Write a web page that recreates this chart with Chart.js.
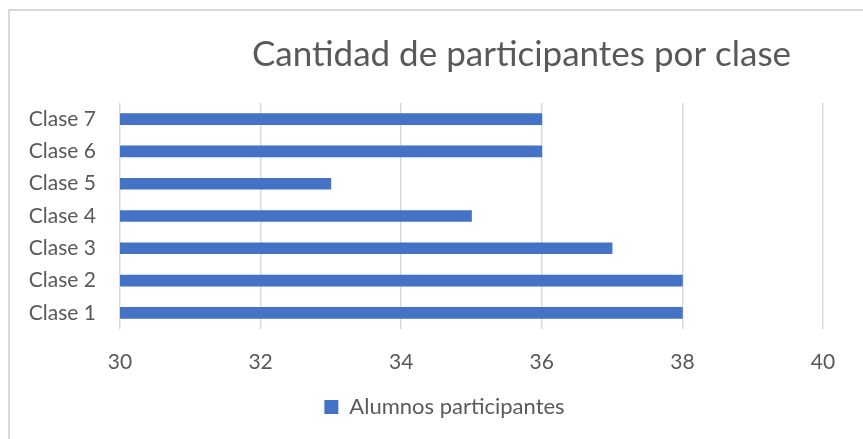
<!DOCTYPE html>
<html>
<head>
<meta charset="utf-8">
<script src="https://cdn.jsdelivr.net/npm/chart.js@4"></script>
<style>
  body { margin: 0; background: #fff; }
  #wrap { position: relative; width: 863px; height: 439px; overflow: hidden; }
  #frame { position: absolute; left: 8px; top: 9px; width: 900px; height: 500px;
           border-left: 2px solid #d9d9d9; border-top: 2px solid #d9d9d9; }
  #c { position: absolute; left: 0; top: 0; }
</style>
</head>
<body>
<div id="wrap">
  <div id="frame"></div>
  <canvas id="c" width="863" height="439"></canvas>
</div>
<script>
var categories = ["Clase 1", "Clase 2", "Clase 3", "Clase 4", "Clase 5", "Clase 6", "Clase 7"];
var alumnos = [38, 38, 37, 35, 33, 36, 36];
var seriesName = "Alumnos participantes";
var chartTitle = "Cantidad de participantes por clase";
var xMin = 30, xMax = 40, xStep = 2;

var textColor = "#595959";
var fontFamily = "Lato, 'Open Sans', sans-serif";

// title and legend are not centred on the canvas in the original
var shiftBoxes = {
    id: 'shiftBoxes',
    afterLayout: function(chart) {
        var t = chart.titleBlock;
        if (t) {
            t.left += 110;
            t.right += 110;
        }
        var l = chart.legend;
        if (l) {
            l.left += 33;
            l.right += 33;
        }
    }
};

var ctx = document.getElementById("c").getContext('2d');
var myChart = new Chart(ctx, {
    type: 'bar',
    data: {
        labels: categories,
        datasets: [{
            label: seriesName,
            data: alumnos,
            backgroundColor: "#4472C4",
            borderWidth: 0,
            barThickness: 11
        }]
    },
    options: {
        indexAxis: 'y',
        responsive: false,
        animation: false,
        layout: { padding: { left: 0, right: 40, top: 0, bottom: 11 } },
        scales: {
            x: {
                min: xMin,
                max: xMax,
                ticks: { stepSize: xStep, color: textColor, padding: 21, font: { family: fontFamily, size: 21 } },
                grid: { color: "#d9d9d9", lineWidth: 1.5, drawTicks: false },
                border: { display: false },
                afterFit: function(scale) { scale.height = 57; }
            },
            y: {
                reverse: true,
                ticks: { color: textColor, padding: 24, font: { family: fontFamily, size: 21 } },
                grid: { display: false, drawTicks: false },
                border: { display: false },
                afterFit: function(scale) { scale.width = 120; }
            }
        },
        plugins: {
            title: {
                display: true,
                text: chartTitle,
                color: textColor,
                font: { family: fontFamily, size: 35, weight: 'normal' },
                padding: { top: 34, bottom: 27 }
            },
            legend: {
                position: 'bottom',
                labels: {
                    color: textColor,
                    boxWidth: 14,
                    boxHeight: 14,
                    font: { family: fontFamily, size: 22 }
                }
            },
            tooltip: { enabled: false }
        }
    },
    plugins: [shiftBoxes]
});
</script>
</body>
</html>
